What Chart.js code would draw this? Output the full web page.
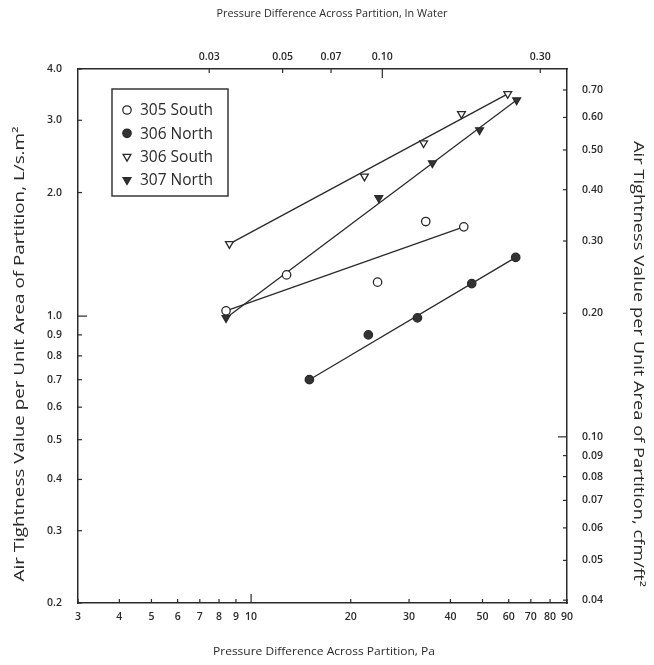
<!DOCTYPE html>
<html><head><meta charset="utf-8">
<script src="https://cdn.jsdelivr.net/npm/chart.js@4/dist/chart.umd.min.js"></script>
<style>html,body{margin:0;padding:0;background:#fff}#wrap{width:654px;height:665px;position:relative}</style>
</head><body><div id="wrap"><canvas id="c" width="654" height="665"></canvas></div>
<script>
// ---- axis ticks and ranges ----
const xTicksPa = [3,4,5,6,7,8,9,10,20,30,40,50,60,70,80,90];
const xTicksInWater = [0.03,0.05,0.07,0.10,0.30];
const yTicksSI = [0.2,0.3,0.4,0.5,0.6,0.7,0.8,0.9,1.0,2.0,3.0,4.0];
const yTicksIP = [0.04,0.05,0.06,0.07,0.08,0.09,0.10,0.20,0.30,0.40,0.50,0.60,0.70];
const xRange = [3,90];
const yRange = [0.2,4.0];
const PA_PER_INWATER = 249.09;
const CFMFT2_PER_LSM2 = 0.19685;

// ---- titles ----
const titleBottom = 'Pressure Difference Across Partition, Pa';
const titleTop = 'Pressure Difference Across Partition, In Water';
const titleLeft = 'Air Tightness Value per Unit Area of Partition, L/s.m\u00B2';
const titleRight = 'Air Tightness Value per Unit Area of Partition, cfm/ft\u00B2';

// ---- series (Pa, L/s.m2) ----
const labels = ['305 South','306 North','306 South','307 North'];
const s305South_x = [8.4, 12.8, 24.1, 33.7, 43.9];
const s305South_y = [1.03, 1.26, 1.21, 1.70, 1.65];
const s306North_x = [15.0, 22.6, 31.8, 46.4, 63.0];
const s306North_y = [0.70, 0.90, 0.99, 1.20, 1.39];
const s306South_x = [8.6, 22.0, 33.2, 43.2, 59.6];
const s306South_y = [1.50, 2.19, 2.64, 3.11, 3.48];
const s307North_x = [8.4, 24.3, 35.3, 49.0, 63.4];
const s307North_y = [0.99, 1.94, 2.36, 2.84, 3.36];

// ---- fitted lines (end points) ----
const fit305South_x = [8.4, 43.9];  const fit305South_y = [1.03, 1.65];
const fit306North_x = [15.0, 63.0]; const fit306North_y = [0.70, 1.39];
const fit306South_x = [8.6, 59.6];  const fit306South_y = [1.50, 3.48];
const fit307North_x = [8.4, 63.4];  const fit307North_y = [0.99, 3.36];

const pts = (xs, ys) => xs.map((x,i)=>({x, y: ys[i]}));
const INK = '#2a2a2a';
const FONT = "'Open Sans', 'DejaVu Sans', sans-serif";

function markerDS(label, xs, ys, style, filled){
  return {label, data: pts(xs,ys), showLine:false, order:0,
    pointStyle: style, pointRotation: style==='triangle'?180:0,
    pointRadius: style==='triangle'?4.5:4.2, pointHoverRadius: 4,
    pointBorderWidth: 1.3, pointBorderColor: INK,
    pointBackgroundColor: filled? '#333' : '#fff', isMarker:true};
}
function lineDS(xs, ys){
  return {label:'fit', data: pts(xs,ys), showLine:true, order:1, pointRadius:0,
    borderColor: INK, borderWidth: 1.3, fill:false, isMarker:false};
}

const innerTicks = {
  id:'innerTicks',
  afterDraw(chart){
    const ctx = chart.ctx, a = chart.chartArea, s = chart.scales;
    ctx.save(); ctx.strokeStyle = INK; ctx.lineWidth = 1.2;
    const line=(x1,y1,x2,y2)=>{ctx.beginPath();ctx.moveTo(x1,y1);ctx.lineTo(x2,y2);ctx.stroke();};
    xTicksPa.forEach(v=>{const p=s.x.getPixelForValue(v); const L = v===10?9:4; line(p,a.bottom,p,a.bottom-L);});
    xTicksInWater.forEach(v=>{const p=s.x2.getPixelForValue(v); const L = v===0.10?9:4; line(p,a.top,p,a.top+L);});
    yTicksSI.forEach(v=>{const p=s.y.getPixelForValue(v); const L = v===1.0?9:4; line(a.left,p,a.left+L,p);});
    yTicksIP.forEach(v=>{const p=s.y2.getPixelForValue(v); const L = v===0.10?9:4; line(a.right,p,a.right-L,p);});
    ctx.restore();
  }
};

function stretchedText(ctx, text, cx, cy, rot, span, size){
  ctx.save();
  ctx.font = size + 'px ' + FONT;
  const w = ctx.measureText(text).width;
  ctx.translate(cx, cy); ctx.rotate(rot); ctx.scale(span / w, 1);
  ctx.fillStyle = INK; ctx.textAlign = 'center'; ctx.textBaseline = 'middle';
  ctx.fillText(text, 0, 0);
  ctx.restore();
}

const axisTitles = {
  id:'axisTitles',
  afterDraw(chart){
    const ctx = chart.ctx;
    stretchedText(ctx, titleTop, 332, 14, 0, 231, 11);
    stretchedText(ctx, titleBottom, 324, 652, 0, 222, 11.5);
    stretchedText(ctx, titleLeft, 20, 354, -Math.PI/2, 455, 14);
    stretchedText(ctx, titleRight, 638, 364, Math.PI/2, 446, 14);
  }
};

const boxLegend = {
  id:'boxLegend',
  afterDraw(chart){
    const ctx = chart.ctx;
    const bx = 112, by = 89, bw = 116, bh = 107, rowH = 23.3, first = 110;
    ctx.save();
    ctx.fillStyle='#fff'; ctx.fillRect(bx,by,bw,bh);
    ctx.strokeStyle = INK; ctx.lineWidth = 1.4; ctx.strokeRect(bx,by,bw,bh);
    const ds = chart.data.datasets.filter(d=>d.isMarker);
    ds.forEach((d,i)=>{
      const y = first + i*rowH;
      ctx.fillStyle = d.pointBackgroundColor; ctx.strokeStyle = d.pointBorderColor; ctx.lineWidth = 1.3;
      Chart.helpers.drawPoint(ctx, {pointStyle:d.pointStyle, radius:d.pointRadius, rotation:d.pointRotation, borderWidth:1.3}, 127, y);
      ctx.fillStyle = INK; ctx.font = "15.5px " + FONT; ctx.textBaseline='middle'; ctx.textAlign='left';
      ctx.fillText(d.label, 140, y+1);
    });
    ctx.restore();
  }
};

const tickFont = {family: FONT, size: 10.5, weight: '600'};
const border = {display:true, color: INK, width: 1.5};
const grid = {display:false, drawTicks:false};

new Chart(document.getElementById('c'), {
  type:'scatter',
  data:{datasets:[
    markerDS(labels[0], s305South_x, s305South_y, 'circle', false),
    markerDS(labels[1], s306North_x, s306North_y, 'circle', true),
    markerDS(labels[2], s306South_x, s306South_y, 'triangle', false),
    markerDS(labels[3], s307North_x, s307North_y, 'triangle', true),
    lineDS(fit305South_x, fit305South_y),
    lineDS(fit306North_x, fit306North_y),
    lineDS(fit306South_x, fit306South_y),
    lineDS(fit307North_x, fit307North_y)
  ]},
  options:{
    responsive:false, animation:false, devicePixelRatio:1,
    layout:{padding:0},
    plugins:{legend:{display:false}, tooltip:{enabled:false}},
    scales:{
      x:{type:'logarithmic', position:'bottom', min:xRange[0], max:xRange[1],
        afterFit:s=>{s.height=62;},
        afterBuildTicks:s=>{s.ticks = xTicksPa.map(v=>({value:v}));},
        ticks:{callback:v=>String(v), autoSkip:false, maxRotation:0, padding:8, font:tickFont, color:INK},
        grid, border},
      x2:{type:'logarithmic', position:'top', display:true,
        min:xRange[0]/PA_PER_INWATER, max:xRange[1]/PA_PER_INWATER,
        afterFit:s=>{s.height=69;},
        afterBuildTicks:s=>{s.ticks = xTicksInWater.map(v=>({value:v}));},
        ticks:{callback:v=>v.toFixed(2), autoSkip:false, maxRotation:0, padding:6, font:tickFont, color:INK},
        grid, border},
      y:{type:'logarithmic', position:'left', min:yRange[0], max:yRange[1],
        afterFit:s=>{s.width=78;},
        afterBuildTicks:s=>{s.ticks = yTicksSI.map(v=>({value:v}));},
        ticks:{callback:v=>v.toFixed(1), autoSkip:false, padding:16, font:tickFont, color:INK},
        grid, border},
      y2:{type:'logarithmic', position:'right', display:true,
        min:yRange[0]*CFMFT2_PER_LSM2, max:yRange[1]*CFMFT2_PER_LSM2,
        afterFit:s=>{s.width=87;},
        afterBuildTicks:s=>{s.ticks = yTicksIP.map(v=>({value:v}));},
        ticks:{callback:v=>v.toFixed(2), autoSkip:false, padding:15, font:tickFont, color:INK},
        grid, border}
    }
  },
  plugins:[innerTicks, axisTitles, boxLegend]
});
</script></body></html>
